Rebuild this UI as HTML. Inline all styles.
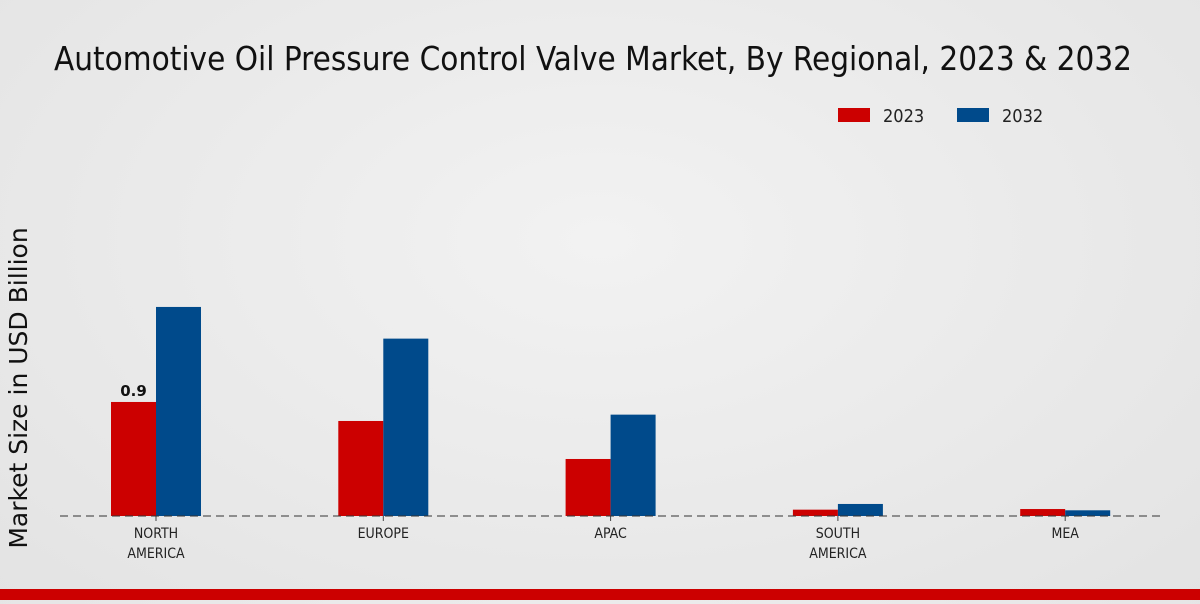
<!DOCTYPE html>
<html><head><meta charset="utf-8"><style>
body{margin:0;width:1200px;height:600px;overflow:hidden;background:radial-gradient(ellipse at 50% 40%,#f2f2f2,#e3e3e3);font-family:"DejaVu Sans","Liberation Sans",sans-serif;}
</style></head><body>
<svg width="1200" height="600">
<text x="593" y="70" text-anchor="middle" font-size="33" fill="#111" style="font-family:'DejaVu Sans Condensed','DejaVu Sans',sans-serif" textLength="1078" lengthAdjust="spacingAndGlyphs">Automotive Oil Pressure Control Valve Market, By Regional, 2023 &amp; 2032</text>
<g>
<rect x="838" y="108" width="32" height="14" fill="#cc0000"/>
<text x="883" y="122" font-size="18" fill="#222" style="font-family:'DejaVu Sans Condensed','DejaVu Sans',sans-serif">2023</text>
<rect x="957" y="108" width="32" height="14" fill="#004a8b"/>
<text x="1002" y="122" font-size="18" fill="#222" style="font-family:'DejaVu Sans Condensed','DejaVu Sans',sans-serif">2032</text>
</g>
<text transform="translate(27,388) rotate(-90)" text-anchor="middle" font-size="25" fill="#111">Market Size in USD Billion</text>
<g id="plot"></g>
<line x1="60" y1="516" x2="1160" y2="516" stroke="#333" stroke-dasharray="8,5"/>
<rect x="0" y="589" width="1200" height="11" fill="#cc0000"/>
</svg>
<script>
const categories=[["NORTH","AMERICA"],["EUROPE"],["APAC"],["SOUTH","AMERICA"],["MEA"]];
const values2023=[0.9,0.75,0.45,0.05,0.055];
const values2032=[1.65,1.4,0.8,0.095,0.045];
const labels2023=["0.9","","","",""];
const NS="http://www.w3.org/2000/svg";
const g=document.getElementById('plot');
const x0=156,step=227.3,bw=45,base=516,k=126.7;
function xc(i){return x0+i*step;}
function yv(v){return base-v*k;}
function mk(t,a){const e=document.createElementNS(NS,t);for(const n in a)e.setAttribute(n,a[n]);g.appendChild(e);return e;}
categories.forEach((c,i)=>{
  const cx=xc(i);
  const r=mk('rect',{x:cx-bw,y:yv(values2023[i]),width:bw,height:values2023[i]*k,fill:'#cc0000'});
  
  
  const b=mk('rect',{x:cx,y:yv(values2032[i]),width:bw,height:values2032[i]*k,fill:'#004a8b'});
  
  
  const tk=mk('line',{x1:cx,x2:cx,y1:base,y2:base+5,stroke:'#444'});
  
  
  c.forEach((s,j)=>{
    const t=mk('text',{x:cx,y:538+j*20,'text-anchor':'middle','font-size':14,fill:'#222',style:"font-family:'DejaVu Sans Condensed','DejaVu Sans',sans-serif"});
    t.textContent=s;
    
    
  });
  if(labels2023[i]){
    const t=mk('text',{x:cx-bw/2,y:yv(values2023[i])-6,'text-anchor':'middle','font-size':15,'font-weight':'bold',fill:'#111'});
    t.textContent=labels2023[i];
    
    
  }
});
</script>
</body></html>
